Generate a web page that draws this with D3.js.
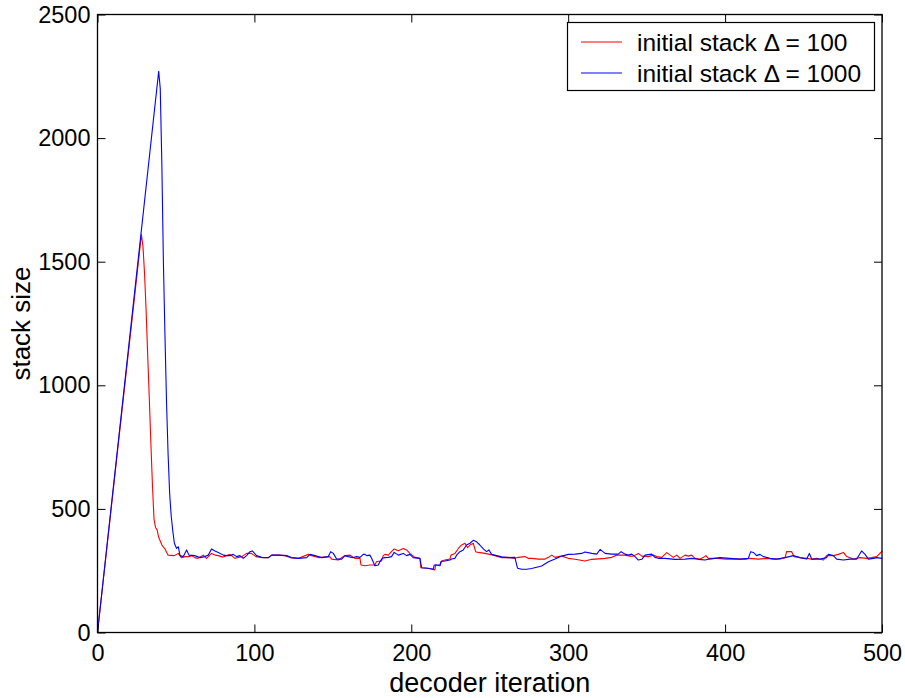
<!DOCTYPE html>
<html>
<head>
<meta charset="utf-8">
<script src="https://cdn.jsdelivr.net/npm/d3@7"></script>
<style>
  html, body { margin: 0; padding: 0; background: #fff; }
  svg { display: block; font-family: "Liberation Sans", Arial, Helvetica, sans-serif; }
</style>
</head>
<body>
<svg id="chart" width="905" height="698"></svg>
<script>
// Stack size per decoder iteration, initial stack delta = 100
const redIter = [0, 28, 29, 30, 31, 32, 33, 34, 35, 36, 37, 38, 39, 40, 41, 42, 43, 45, 49, 51.5, 53.5, 55.7, 58, 60, 62, 64, 67.4, 69.5, 72.7, 75, 77, 80, 84.4, 87.6, 92, 95, 98, 101, 105, 109, 111, 115.5, 119.5, 122.7, 128, 134.4, 136.5, 140.7, 148, 149.2, 153.5, 156.6, 158, 161, 164, 167.3, 167.9, 170.4, 173.6, 176.8, 177.9, 181, 182.1, 183.2, 185.3, 187.4, 189.1, 191.7, 194.9, 197, 199.1, 202.3, 205.5, 206.1, 209.8, 213, 215, 215.5, 218.3, 219.3, 221.4, 224.6, 225.3, 227.8, 230, 232.1, 234.2, 235.9, 237.4, 239.5, 241, 242.7, 246.9, 250, 253.3, 257.6, 261.8, 266, 268.2, 272.4, 274.5, 276.7, 281, 285.2, 287.4, 289.5, 291.6, 293.7, 295.9, 300, 304.4, 310.7, 315, 323.5, 327.7, 330.9, 336, 339.4, 341.5, 344.7, 346.9, 351, 354.3, 356.4, 359.6, 362.8, 365, 367, 369.2, 371.3, 374.5, 376.6, 378.7, 380.8, 384, 386, 387.8, 389.3, 394.6, 401, 407.4, 413.7, 415.9, 421.2, 426.5, 430.7, 435, 438.2, 439.2, 442.4, 443.9, 447.7, 452, 455.2, 458.4, 462.6, 464.7, 469, 472.2, 475.4, 477.5, 481.7, 486, 490.2, 493.4, 496.6, 499.8, 500];
const redStack = [0, 1610, 1560, 1450, 1300, 1120, 950, 770, 600, 460, 425, 415, 385, 370, 355, 345, 338, 313, 311, 320, 303, 307, 307, 311, 303, 300, 313, 300, 320, 313, 311, 305, 316, 300, 307, 320, 320, 307, 303, 303, 313, 313, 311, 303, 300, 316, 311, 303, 307, 297, 293, 307, 311, 313, 300, 300, 273, 270, 273, 273, 287, 289, 311, 316, 313, 327, 338, 331, 340, 334, 320, 304, 300, 262, 260, 257, 253, 273, 270, 289, 293, 297, 313, 320, 340, 354, 361, 343, 354, 361, 327, 324, 320, 316, 311, 303, 304, 300, 304, 307, 300, 300, 297, 297, 304, 313, 304, 307, 309, 300, 296, 289, 296, 300, 304, 313, 313, 309, 309, 320, 309, 307, 313, 307, 304, 323, 313, 304, 313, 300, 313, 309, 313, 300, 297, 303, 311, 300, 300, 297, 297, 297, 300, 297, 300, 297, 297, 303, 327, 327, 307, 303, 300, 297, 300, 293, 311, 311, 316, 324, 307, 297, 303, 300, 303, 307, 327, 330];

// Stack size per decoder iteration, initial stack delta = 1000
const blueIter = [0, 39, 40, 41, 42, 43, 44, 45, 46, 47, 48, 49, 50.4, 51.5, 52.6, 54.7, 56.8, 58.3, 62, 65.3, 68.5, 70.6, 72.7, 74.9, 77, 80.2, 82.3, 84.4, 86.5, 88.7, 90.8, 92.9, 95, 97.2, 98.7, 101.4, 104.6, 108.9, 111, 115.2, 120.5, 123.7, 128, 133.3, 135.4, 138.6, 142.9, 147.1, 148.6, 150.3, 152.4, 155.6, 157.7, 159.8, 163, 165.1, 167.3, 169.4, 170.5, 171.5, 173.6, 174.7, 176.8, 179, 180, 181.5, 183.2, 185.3, 187.4, 189.1, 191.7, 194.9, 197, 199.1, 201.2, 205.5, 206.6, 210.8, 214, 214.6, 218.3, 218.9, 221.4, 224.6, 225.7, 227.8, 228.9, 231, 233.1, 235.2, 237.4, 239.5, 241.6, 243.7, 245.9, 248, 249.5, 251.2, 254.4, 257.6, 261.8, 266, 267.7, 270.3, 273.5, 276.7, 279.9, 283.1, 287.4, 291.6, 295.9, 300.1, 304.4, 308.6, 310.7, 315, 318.2, 320.3, 323.5, 327.7, 331.9, 333.7, 336.2, 338.3, 340.5, 342.6, 344.7, 346.9, 349, 353.2, 355.3, 357.5, 361.7, 368.1, 374.5, 378.7, 383, 387.2, 390, 396.7, 403, 409.5, 414.8, 416.3, 418, 420.1, 422.2, 424.4, 428.6, 432.9, 438.2, 443.5, 447.7, 452, 453.7, 455.2, 460.5, 464.7, 465.8, 469, 471.1, 475.4, 479.6, 483.9, 487, 489.2, 491.3, 494.5, 496.6, 499.8, 500];
const blueStack = [0, 2270, 2200, 1900, 1500, 1200, 930, 720, 560, 470, 410, 361, 340, 347, 311, 307, 334, 313, 311, 303, 307, 313, 338, 330, 324, 313, 311, 311, 316, 307, 311, 300, 311, 327, 330, 311, 304, 303, 313, 313, 311, 303, 300, 303, 316, 311, 303, 307, 327, 320, 297, 297, 311, 307, 303, 307, 304, 316, 316, 311, 313, 300, 270, 273, 287, 300, 303, 304, 307, 324, 313, 320, 311, 316, 303, 300, 262, 260, 256, 273, 273, 287, 289, 293, 297, 300, 313, 327, 334, 354, 361, 373, 367, 354, 338, 327, 334, 316, 311, 306, 303, 304, 260, 256, 256, 259, 264, 269, 286, 297, 309, 316, 317, 320, 326, 320, 317, 336, 320, 317, 317, 327, 317, 313, 317, 307, 293, 296, 313, 317, 304, 300, 300, 296, 297, 300, 296, 293, 297, 303, 300, 297, 300, 327, 324, 311, 316, 307, 300, 297, 303, 311, 303, 297, 320, 297, 297, 303, 316, 311, 297, 293, 297, 297, 330, 316, 297, 300, 303, 300, 297];

const legendLabels = ["initial stack \u0394 = 100", "initial stack \u0394 = 1000"];
const seriesColors = ["#ff0000", "#0000ff"];
const xTicks = [0, 100, 200, 300, 400, 500];
const yTicks = [0, 500, 1000, 1500, 2000, 2500];

const svg = d3.select("#chart");
const margin = { left: 97.5, right: 905 - 882, top: 14.5, bottom: 698 - 632.5 };
const W = 905, H = 698;

const x = d3.scaleLinear().domain([0, 500]).range([margin.left, W - margin.right]);
const y = d3.scaleLinear().domain([0, 2500]).range([H - margin.bottom, margin.top]);

const tickFont = 23.5;
const legendFont = 24.5;
const titleFont = 27;

// Series lines
const series = [
  { iter: redIter, stack: redStack, color: seriesColors[0] },
  { iter: blueIter, stack: blueStack, color: seriesColors[1] }
];
const line = d3.line().x(d => x(d[0])).y(d => y(d[1]));
series.forEach(s => {
  svg.append("path")
    .datum(s.iter.map((v, i) => [v, s.stack[i]]))
    .attr("d", line)
    .attr("fill", "none")
    .attr("stroke", s.color)
    .attr("stroke-width", 1.1)
    .attr("stroke-linejoin", "round");
});

// Axes with inward ticks on all four sides
const tickLen = 8;
const axisStyle = g => {
  g.select(".domain").remove();
  g.selectAll(".tick line").attr("stroke", "#000").attr("stroke-width", 1);
  g.selectAll("text").attr("font-size", tickFont).attr("fill", "#000")
    .attr("font-family", "Liberation Sans, Arial, sans-serif");
};

svg.append("g")
  .attr("transform", `translate(0,${y(0)})`)
  .call(d3.axisBottom(x).tickValues(xTicks).tickFormat(d3.format("d")).tickSize(-tickLen).tickPadding(12))
  .call(axisStyle);

svg.append("g")
  .attr("transform", `translate(0,${y(2500)})`)
  .call(d3.axisTop(x).tickValues(xTicks).tickFormat("").tickSize(-tickLen))
  .call(axisStyle);

svg.append("g")
  .attr("transform", `translate(${x(0)},0)`)
  .call(d3.axisLeft(y).tickValues(yTicks).tickFormat(d3.format("d")).tickSize(-tickLen).tickPadding(7))
  .call(axisStyle);

svg.append("g")
  .attr("transform", `translate(${x(500)},0)`)
  .call(d3.axisRight(y).tickValues(yTicks).tickFormat("").tickSize(-tickLen))
  .call(axisStyle);

// Plot frame
svg.append("rect")
  .attr("x", x(0)).attr("y", y(2500))
  .attr("width", x(500) - x(0)).attr("height", y(0) - y(2500))
  .attr("fill", "none").attr("stroke", "#000").attr("stroke-width", 1.3);

// Axis titles
svg.append("text")
  .attr("x", (x(0) + x(500)) / 2).attr("y", 692)
  .attr("text-anchor", "middle").attr("font-size", titleFont)
  .text("decoder iteration");

svg.append("text")
  .attr("transform", `translate(30,${(y(0) + y(2500)) / 2}) rotate(-90)`)
  .attr("text-anchor", "middle").attr("font-size", titleFont - 1)
  .text("stack size");

// Legend
const lg = svg.append("g");
lg.append("rect")
  .attr("x", 567.5).attr("y", 22.5).attr("width", 307).attr("height", 68)
  .attr("fill", "#fff").attr("stroke", "#000").attr("stroke-width", 1.2);
legendLabels.forEach((lab, i) => {
  const ly = 42 + i * 31;
  lg.append("line")
    .attr("x1", 581).attr("x2", 622).attr("y1", ly).attr("y2", ly)
    .attr("stroke", seriesColors[i]).attr("stroke-width", 1.1);
  lg.append("text")
    .attr("x", 637).attr("y", ly + 8.5)
    .attr("font-size", legendFont)
    .text(lab);
});
</script>
</body>
</html>
